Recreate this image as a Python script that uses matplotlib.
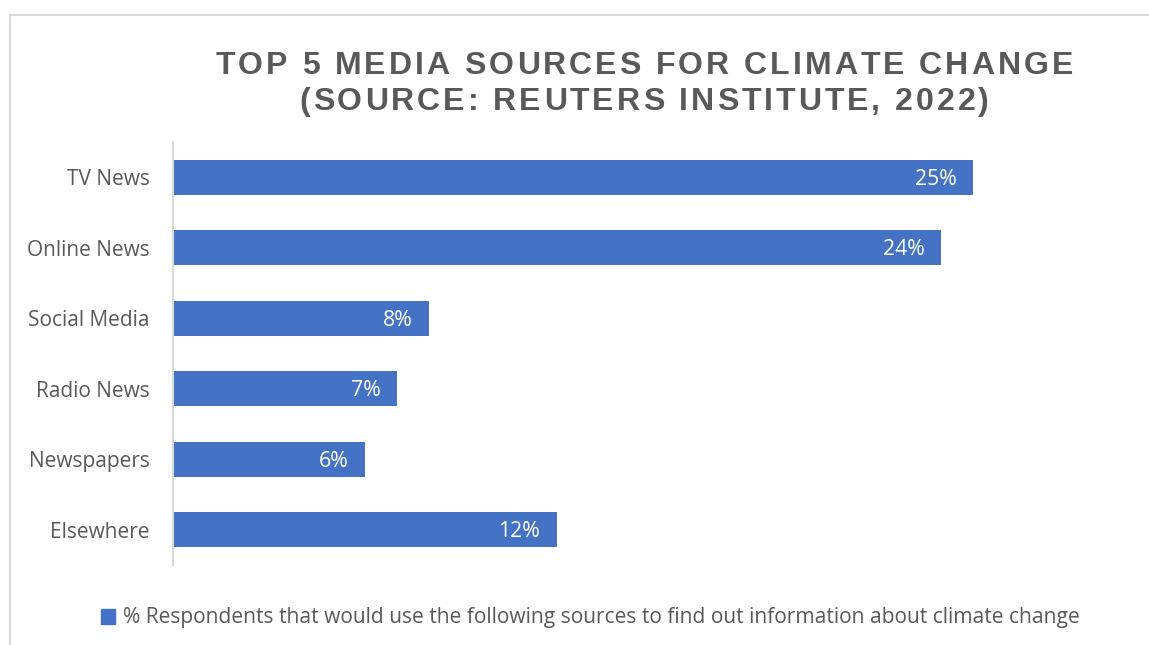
import matplotlib.pyplot as plt
from matplotlib.lines import Line2D
from matplotlib.patches import Patch
from matplotlib.font_manager import FontProperties, findfont, get_font

# Reuters Institute 2022 - where people find climate change information
sources = ["TV News", "Online News", "Social Media", "Radio News", "Newspapers", "Elsewhere"]
share = [25, 24, 8, 7, 6, 12]
title_lines = ["TOP 5 MEDIA SOURCES FOR CLIMATE CHANGE",
               "(SOURCE: REUTERS INSTITUTE, 2022)"]
legend_text = ("% Respondents that would use the following sources "
               "to find out information about climate change")

W, H, DPI = 1149, 645, 100
blue = "#4472C4"
grey_txt = "#595959"
grey_line = "#d9d9d9"

plt.rcParams["font.family"] = ["Open Sans", "DejaVu Sans"]

fig = plt.figure(figsize=(W / DPI, H / DPI), dpi=DPI)
ax = fig.add_axes([173 / W, 80 / H, 960 / W, 423 / H])

y = list(range(len(sources)))
ax.barh(y, share, height=0.5, color=blue)
ax.set_ylim(len(sources) - 0.5, -0.5)
ax.set_xlim(0, 30)
ax.set_yticks(y)
ax.set_yticklabels(sources, fontsize=15, color=grey_txt)
ax.tick_params(axis="y", length=0, pad=17)
ax.set_xticks([])
for side in ["top", "right", "bottom"]:
    ax.spines[side].set_visible(False)
ax.spines["left"].set_color(grey_line)
ax.spines["left"].set_linewidth(1.5)

for yi, v in zip(y, share):
    ax.annotate(f"{v}%", xy=(v, yi), xytext=(-12, -1.5), textcoords="offset points",
                ha="right", va="center", color="white", fontsize=15.3)


# letter-spaced bold title, drawn glyph by glyph
tprop = FontProperties(family="Liberation Sans", weight="bold", size=23)
tfont = get_font(findfont(tprop))
tfont.set_size(23, DPI)
spacing = 3.0


def spaced_line(text, baseline_px, center_px=644):
    adv = [tfont.load_char(ord(c)).linearHoriAdvance / 65536 for c in text]
    total = sum(adv) + spacing * (len(text) - 1)
    x = center_px - total / 2
    for c, a in zip(text, adv):
        fig.text(x / W, 1 - baseline_px / H, c, fontproperties=tprop,
                 color=grey_txt, ha="left", va="baseline")
        x += a + spacing


spaced_line(title_lines[0], 74)
spaced_line(title_lines[1], 110)

# frame around the chart area
fig.add_artist(Line2D([10 / W, 1], [1 - 15 / H, 1 - 15 / H], color=grey_line, lw=1.5))
fig.add_artist(Line2D([10 / W, 10 / W], [0, 1 - 15 / H], color=grey_line, lw=1.5))

fig.legend(handles=[Patch(color=blue, label=legend_text)], loc="center",
           bbox_to_anchor=(590 / W, 1 - 618 / H), frameon=False, fontsize=15.1,
           labelcolor=grey_txt, handlelength=0.7, handleheight=0.7,
           handletextpad=0.35)

fig.savefig("out.png", dpi=DPI)
